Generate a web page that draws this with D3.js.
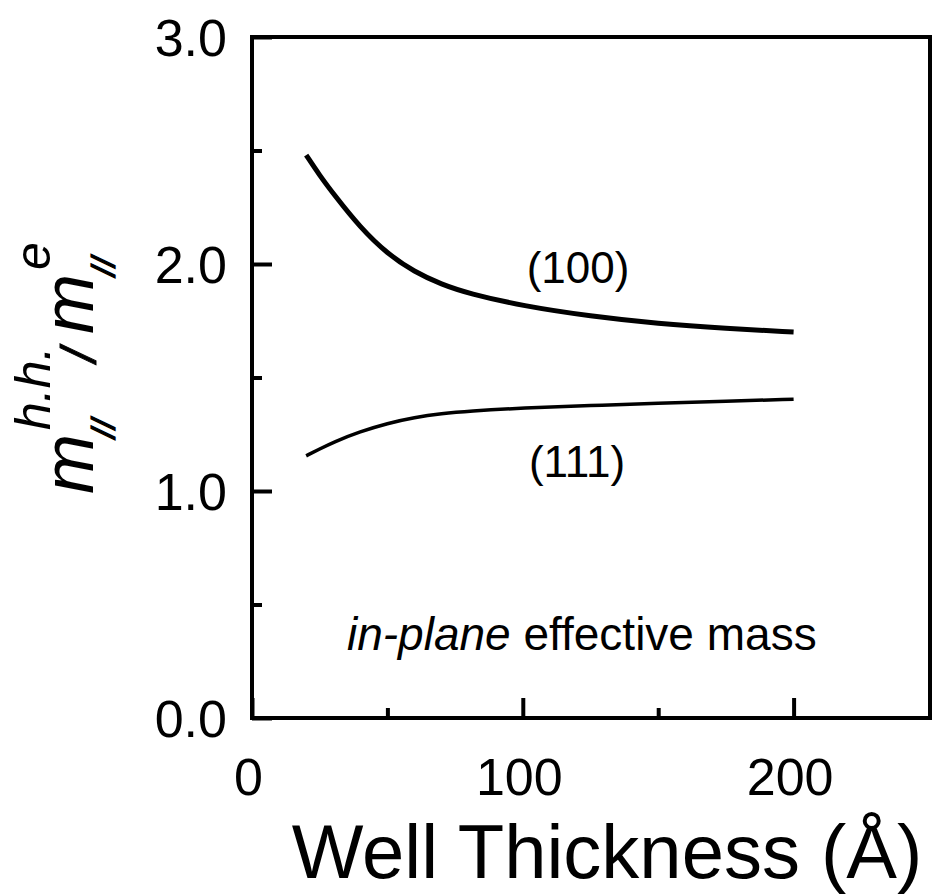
<!DOCTYPE html>
<html>
<head>
<meta charset="utf-8">
<script src="https://cdn.jsdelivr.net/npm/d3@7"></script>
<style>
  html, body { margin: 0; padding: 0; background: #fff; }
  svg { display: block; }
  text { font-family: "Liberation Sans", Arial, Helvetica, sans-serif; fill: #000; }
</style>
</head>
<body>
<div id="chart"></div>
<script>
// well thickness (Angstrom) and in-plane mass ratio
const thickness = [20, 25, 30, 40, 50, 60, 70, 80, 100, 125, 150, 175, 200]
const mass100   = [2.48, 2.39, 2.31, 2.16, 2.045, 1.965, 1.91, 1.87, 1.815, 1.77, 1.737, 1.716, 1.70]
const mass111   = [1.155, 1.185, 1.215, 1.262, 1.298, 1.324, 1.341, 1.352, 1.366, 1.376, 1.387, 1.396, 1.404]

const xMajor = [0, 100, 200]
const xMinor = [50, 150]
const yMajor = [0, 1, 2, 3]
const yMinor = [0.5, 1.5, 2.5]

const width  = 933,
      height = 896,
      plot   = { left: 252, right: 930, top: 37, bottom: 718 }

const svg = d3.select('#chart')
  .append('svg')
  .attr('width', width)
  .attr('height', height)

const x = d3.scaleLinear().domain([0, 250]).range([plot.left, plot.left + 677])
const y = d3.scaleLinear().domain([0, 3]).range([plot.bottom, plot.top])

// ticks point inwards
const drawAxis = (axis, transform) => {
  const g = svg.append('g')
    .attr('transform', transform)
    .call(axis)
  g.select('.domain').remove()
  g.selectAll('.tick line').attr('stroke', '#000').attr('stroke-width', 4)
  g.selectAll('.tick text').attr('font-size', 52).attr('fill', '#000')
  return g
}

drawAxis(d3.axisBottom(x).tickValues(xMajor).tickSize(-20).tickPadding(0)
  .tickFormat(d3.format('d')), `translate(0, ${plot.bottom})`)
  .selectAll('.tick text')
  .attr('y', 77).attr('dy', 0).attr('dx', -4)

drawAxis(d3.axisBottom(x).tickValues(xMinor).tickSize(-10).tickFormat(''),
  `translate(0, ${plot.bottom})`)

drawAxis(d3.axisLeft(y).tickValues(yMajor).tickSize(-20).tickPadding(0)
  .tickFormat(d3.format('.1f')), `translate(${plot.left}, 0)`)
  .selectAll('.tick text')
  .attr('x', -25).attr('dy', '0.36em')

drawAxis(d3.axisLeft(y).tickValues(yMinor).tickSize(-10).tickFormat(''),
  `translate(${plot.left}, 0)`)

// frame
svg.append('rect')
  .attr('x', plot.left)
  .attr('y', plot.top)
  .attr('width', plot.right - plot.left)
  .attr('height', plot.bottom - plot.top)
  .attr('fill', 'none')
  .attr('stroke', '#000')
  .attr('stroke-width', 4)

const line = d3.line()
  .x((d, i) => x(thickness[i]))
  .y(d => y(d))
  .curve(d3.curveBasis)

svg.append('path')
  .attr('d', line(mass100))
  .attr('fill', 'none')
  .attr('stroke', '#000')
  .attr('stroke-width', 5)

svg.append('path')
  .attr('d', line(mass111))
  .attr('fill', 'none')
  .attr('stroke', '#000')
  .attr('stroke-width', 3.5)

// curve labels
svg.append('text')
  .attr('x', 578).attr('y', 283)
  .attr('text-anchor', 'middle')
  .attr('font-size', 44)
  .text('(100)')

svg.append('text')
  .attr('x', 577).attr('y', 477)
  .attr('text-anchor', 'middle')
  .attr('font-size', 44)
  .text('(111)')

const note = svg.append('text')
  .attr('x', 347).attr('y', 650)
  .attr('font-size', 46)
note.append('tspan').attr('font-style', 'italic').text('in-plane')
note.append('tspan').text(' effective mass')

// x title
svg.append('text')
  .attr('x', 607).attr('y', 878)
  .attr('text-anchor', 'middle')
  .attr('font-size', 76)
  .text('Well Thickness (Å)')

// y title: m_//^{h.h.} / m_//^{e}, rotated
const yt = svg.append('g')
  .attr('transform', 'translate(93, 494) rotate(-90)')

const part = (txt, px, py, size, sw) => yt.append('text')
  .attr('x', px).attr('y', py)
  .attr('font-size', size)
  .attr('font-style', 'italic')
  .attr('stroke', '#000')
  .attr('stroke-width', sw || 0)
  .text(txt)

part('m', 0, 0, 72)
part('//', 56, 22, 34, 1.2)
part('h.h.', 64, -43, 50)
part('/', 132, 3, 50, 1)
part('m', 160, 0, 72)
part('//', 218, 22, 34, 1.2)
part('e', 224, -43, 50)
</script>
</body>
</html>
